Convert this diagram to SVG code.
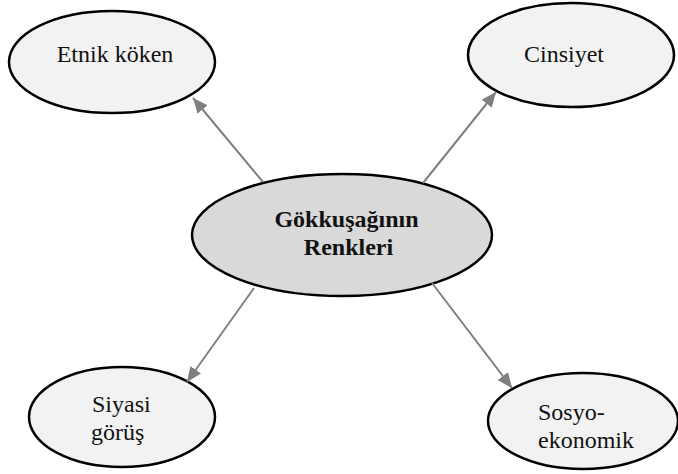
<svg xmlns="http://www.w3.org/2000/svg" width="678" height="474" viewBox="0 0 678 474">
<style>
.node{fill:#f2f2f2;stroke:#000;stroke-width:2.5}
.main{fill:#d9d9d9;stroke:#000;stroke-width:2.5}
.t{font-family:"Liberation Serif","Times New Roman",serif;font-size:24px;fill:#111}
.b{font-weight:bold;text-anchor:middle}
.c{text-anchor:middle}
.edge{stroke:#808080;stroke-width:2;fill:none;marker-end:url(#ah)}
</style>
<defs>
<marker id="ah" markerUnits="userSpaceOnUse" markerWidth="16" markerHeight="13" refX="15" refY="6.5" orient="auto">
<path d="M0,0 L15,6.5 L0,13 z" fill="#808080"/>
</marker>
</defs>
<rect width="678" height="474" fill="#fff"/>
<g id="center">
<ellipse class="main" cx="342" cy="235" rx="150" ry="61"/>
<text class="t b" x="346.5" y="227">Gökkuşağının</text>
<text class="t b" x="348.5" y="255">Renkleri</text>
</g>
<g id="etnik">
<ellipse class="node" cx="112" cy="62" rx="103" ry="51"/>
<text class="t c" x="115" y="62">Etnik köken</text>
</g>
<g id="cinsiyet">
<ellipse class="node" cx="571" cy="55" rx="103" ry="52"/>
<text class="t c" x="564" y="62">Cinsiyet</text>
</g>
<g id="siyasi">
<ellipse class="node" cx="122" cy="417" rx="93" ry="50"/>
<text class="t" x="92" y="412">Siyasi</text>
<text class="t" x="91" y="440">görüş</text>
</g>
<g id="sosyo">
<ellipse class="node" cx="583" cy="421" rx="95" ry="48"/>
<text class="t" x="538" y="420">Sosyo-</text>
<text class="t" x="538" y="448">ekonomik</text>
</g>
<g id="connectors">
<line class="edge" x1="263" y1="182" x2="193" y2="98"/>
<line class="edge" x1="423" y1="183" x2="496" y2="92"/>
<line class="edge" x1="254" y1="288" x2="187" y2="382"/>
<line class="edge" x1="432" y1="283" x2="512" y2="388"/>
</g>
</svg>
